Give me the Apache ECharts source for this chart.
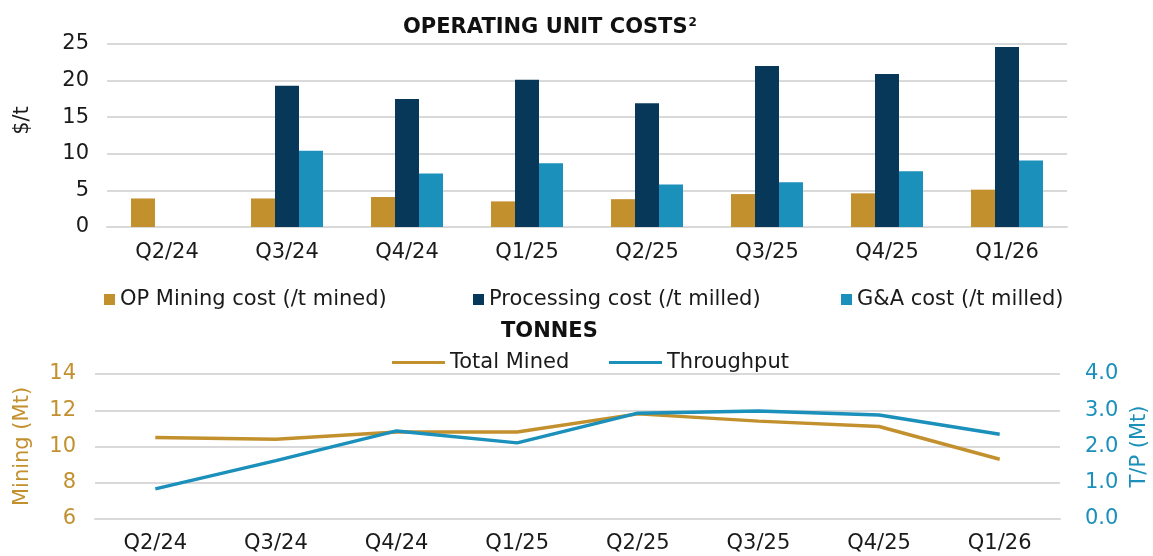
<!DOCTYPE html>
<html>
<head>
<meta charset="utf-8">
<script src="https://cdn.jsdelivr.net/npm/echarts@6/dist/echarts.min.js"></script>
<style>
html, body { margin: 0; padding: 0; background: #fff; }
#chart { width: 1153px; height: 556px; }
</style>
</head>
<body>
<div id="chart"></div>
<script>
var categories = ['Q2/24', 'Q3/24', 'Q4/24', 'Q1/25', 'Q2/25', 'Q3/25', 'Q4/25', 'Q1/26'];
var miningCost = [3.9, 3.9, 4.1, 3.5, 3.8, 4.5, 4.6, 5.1];
var processingCost = [null, 19.3, 17.5, 20.1, 16.9, 22.0, 20.9, 24.6];
var gaCost = [null, 10.4, 7.3, 8.7, 5.8, 6.1, 7.6, 9.1];
var totalMined = [10.5, 10.4, 10.8, 10.8, 11.8, 11.4, 11.1, 9.3];
var throughput = [0.83, 1.61, 2.43, 2.1, 2.92, 2.98, 2.87, 2.34];

var GOLD = '#c3902e';
var NAVY = '#07385a';
var BLUE = '#1a90bb';
var GRID = '#d9d9d9';
var FONT = 'DejaVu Sans';
var FS = 21;

var myChart = echarts.init(document.getElementById('chart'));

var labelStyle = { fontFamily: FONT, fontSize: FS, color: '#1a1a1a' };

var option = {
    animation: false,
    textStyle: { fontFamily: FONT },
    title: [
        {
            text: '{t|OPERATING UNIT COSTS}{s|2}',
            left: 398, top: 12,
            textStyle: {
                rich: {
                    t: { fontFamily: FONT, fontSize: 21, fontWeight: 'bold', color: '#111' },
                    s: { fontFamily: FONT, fontSize: 12, color: '#111', verticalAlign: 'top', padding: [0, 0, 10, 1] }
                }
            }
        },
        {
            text: 'TONNES',
            left: 496, top: 316,
            textStyle: { fontFamily: FONT, fontSize: 21, fontWeight: 'bold', color: '#111' }
        }
    ],
    legend: [
        { data: ['OP Mining cost (/t mined)'], left: 99, top: 284, icon: 'rect', itemWidth: 11, itemHeight: 11, textStyle: labelStyle },
        { data: ['Processing cost (/t milled)'], left: 468, top: 284, icon: 'rect', itemWidth: 11, itemHeight: 11, textStyle: labelStyle },
        { data: ['G&A cost (/t milled)'], left: 836, top: 284, icon: 'rect', itemWidth: 11, itemHeight: 11, textStyle: labelStyle },
        { data: ['Total Mined'], left: 387, top: 347, icon: 'rect', itemWidth: 53, itemHeight: 3, textStyle: labelStyle },
        { data: ['Throughput'], left: 604, top: 347, icon: 'rect', itemWidth: 53, itemHeight: 3, textStyle: labelStyle }
    ],
    grid: [
        { left: 107, right: 86, top: 44, height: 183, outerBoundsMode: 'none' },
        { left: 95, right: 93, top: 374, height: 145, outerBoundsMode: 'none' }
    ],
    xAxis: [
        {
            type: 'category', gridIndex: 0, data: categories,
            axisTick: { show: false },
            axisLine: { lineStyle: { color: GRID, width: 2 } },
            axisLabel: { margin: 15, fontFamily: FONT, fontSize: FS, color: '#1a1a1a' }
        },
        {
            type: 'category', gridIndex: 1, data: categories,
            axisTick: { show: false },
            axisLine: { lineStyle: { color: GRID, width: 2 } },
            axisLabel: { margin: 14, fontFamily: FONT, fontSize: FS, color: '#1a1a1a' }
        }
    ],
    yAxis: [
        {
            type: 'value', gridIndex: 0, min: 0, max: 25, interval: 5,
            name: '$/t', nameLocation: 'middle', nameRotate: 90, nameGap: 74,
            nameTextStyle: { fontFamily: FONT, fontSize: FS, color: '#1a1a1a', padding: [0, 0, 0, 30] },
            axisLine: { show: false }, axisTick: { show: false },
            splitLine: { lineStyle: { color: GRID, width: 2 } },
            axisLabel: { margin: 18, fontFamily: FONT, fontSize: FS, color: '#1a1a1a' }
        },
        {
            type: 'value', gridIndex: 1, min: 6, max: 14, interval: 2,
            name: 'Mining (Mt)', nameLocation: 'middle', nameRotate: 90, nameGap: 62,
            nameTextStyle: { fontFamily: FONT, fontSize: FS, color: GOLD },
            axisLine: { show: false }, axisTick: { show: false },
            splitLine: { lineStyle: { color: GRID, width: 2 } },
            axisLabel: { margin: 19, fontFamily: FONT, fontSize: FS, color: GOLD }
        },
        {
            type: 'value', gridIndex: 1, position: 'right', min: 0, max: 4, interval: 1,
            name: 'T/P (Mt)', nameLocation: 'middle', nameRotate: 90, nameGap: 68,
            nameTextStyle: { fontFamily: FONT, fontSize: FS, color: BLUE },
            axisLine: { show: false }, axisTick: { show: false },
            splitLine: { show: false },
            axisLabel: { margin: 25, fontFamily: FONT, fontSize: FS, color: BLUE,
                formatter: function (v) { return v.toFixed(1); } }
        }
    ],
    series: [
        {
            name: 'OP Mining cost (/t mined)', type: 'bar', xAxisIndex: 0, yAxisIndex: 0,
            data: miningCost, barGap: '0%', barCategoryGap: '40%',
            itemStyle: { color: GOLD }
        },
        {
            name: 'Processing cost (/t milled)', type: 'bar', xAxisIndex: 0, yAxisIndex: 0,
            data: processingCost, barGap: '0%', barCategoryGap: '40%',
            itemStyle: { color: NAVY }
        },
        {
            name: 'G&A cost (/t milled)', type: 'bar', xAxisIndex: 0, yAxisIndex: 0,
            data: gaCost, barGap: '0%', barCategoryGap: '40%',
            itemStyle: { color: BLUE }
        },
        {
            name: 'Total Mined', type: 'line', xAxisIndex: 1, yAxisIndex: 1,
            data: totalMined, showSymbol: false,
            lineStyle: { color: GOLD, width: 3.5 }, itemStyle: { color: GOLD }
        },
        {
            name: 'Throughput', type: 'line', xAxisIndex: 1, yAxisIndex: 2,
            data: throughput, showSymbol: false,
            lineStyle: { color: BLUE, width: 3.5 }, itemStyle: { color: BLUE }
        }
    ]
};

myChart.setOption(option);
window.onresize = myChart.resize;
</script>
</body>
</html>
